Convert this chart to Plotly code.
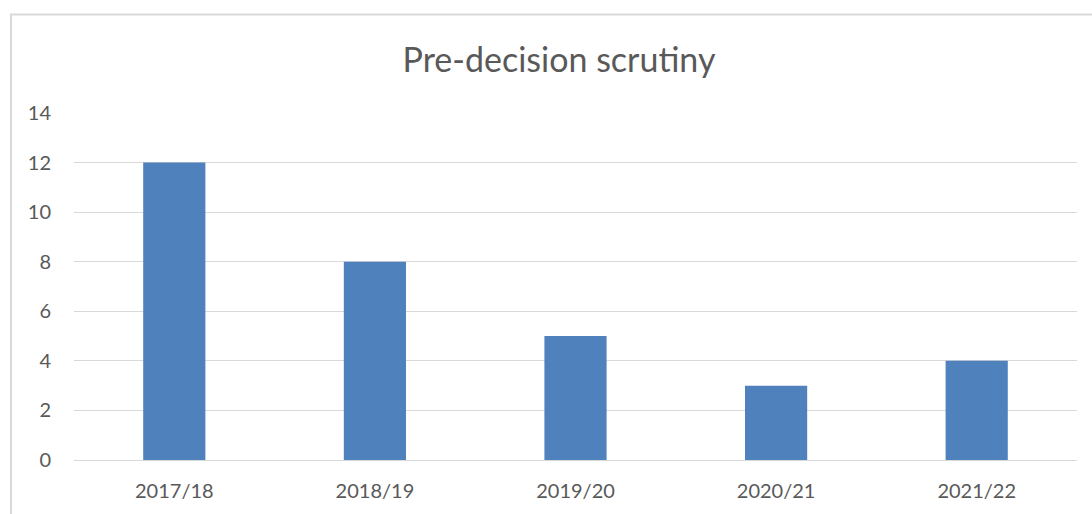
import plotly.graph_objects as go

categories = ["2017/18", "2018/19", "2019/20", "2020/21", "2021/22"]
values = [12, 8, 5, 3, 4]
title_text = "Pre-decision scrutiny"

W, H = 1092, 514
ml, mr, mt, mb = 74, 15, 113, 54
pw = W - ml - mr
ph = H - mt - mb

def px_to_xpaper(px):
    return (px - ml) / pw

def py_to_ypaper(py):
    return (H - mb - py) / ph

fig = go.Figure(go.Bar(
    x=categories, y=values,
    marker=dict(color="#4F81BD", line=dict(width=0)),
    hoverinfo="x+y",
))

font_family = "Lato, 'Open Sans', sans-serif"

fig.update_layout(
    width=W, height=H,
    margin=dict(l=ml, r=mr, t=mt, b=mb, pad=0),
    paper_bgcolor="white", plot_bgcolor="white",
    bargap=0.69,
    showlegend=False,
    title=dict(text=title_text, x=559 / W, xanchor="center",
               y=1 - 60 / H, yanchor="middle",
               font=dict(family=font_family, size=34, color="#595959")),
    xaxis=dict(showgrid=False, showline=True, linecolor="#D9D9D9", linewidth=1,
               ticks="", tickfont=dict(family=font_family, size=20, color="#595959"),
               ticklabelstandoff=13),
    yaxis=dict(range=[0, 14], dtick=2, showgrid=True, gridcolor="#D9D9D9", gridwidth=1,
               zeroline=False, showline=False, ticks="",
               tickfont=dict(family=font_family, size=20, color="#595959"),
               ticklabelstandoff=22),
    shapes=[
        dict(type="line", xref="paper", yref="paper",
             x0=px_to_xpaper(11), x1=px_to_xpaper(11),
             y0=py_to_ypaper(14), y1=py_to_ypaper(520),
             line=dict(color="#D9D9D9", width=2)),
        dict(type="line", xref="paper", yref="paper",
             x0=px_to_xpaper(10), x1=px_to_xpaper(1100),
             y0=py_to_ypaper(14.5), y1=py_to_ypaper(14.5),
             line=dict(color="#D9D9D9", width=2)),
    ],
)

fig.write_html("out.html", config={"displayModeBar": False},
               post_script="document.body.style.margin='0';document.body.style.overflow='hidden';")
